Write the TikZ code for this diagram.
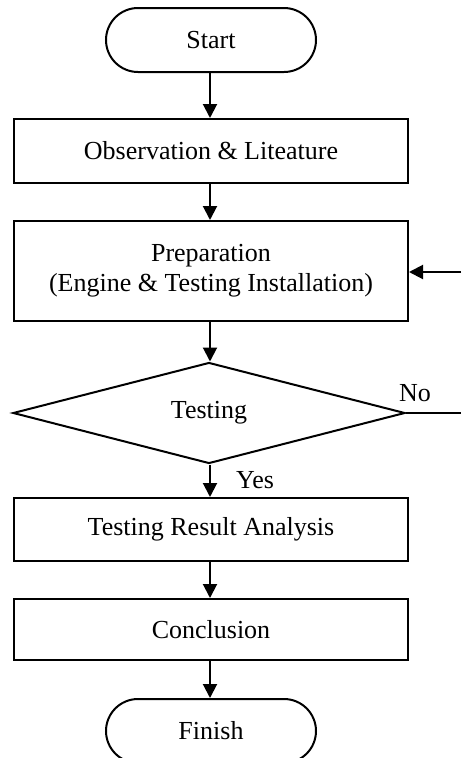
\documentclass[tikz,border=0pt]{standalone}
\usepackage{fontspec}
\setmainfont{Liberation Serif}
\usetikzlibrary{shapes.misc,shapes.geometric,arrows.meta}
\begin{document}
\begin{tikzpicture}[x=1pt,y=-1pt,
  every node/.style={font=\fontsize{26}{30}\selectfont},
  box/.style={draw,line width=2pt,minimum width=394pt,inner sep=0pt,align=center},
  term/.style={draw,line width=2pt,rounded rectangle,minimum width=210pt,minimum height=64pt,inner sep=0pt},
  dec/.style={draw,line width=2pt,diamond,minimum width=392pt,minimum height=101pt,inner sep=0pt,aspect=3.9},
  flow/.style={line width=2pt,-{Triangle[length=14pt,width=14pt]}},
  plain/.style={font=\fontsize{26}{30}\selectfont,inner sep=0pt}]
\useasboundingbox (0,0) rectangle (461,758);
\node[term] (start) at (211,40) {Start};
\node[box,minimum height=64pt] (obs) at (211,151) {Observation \& Liteature};
\node[box,minimum height=100pt] (prep) at (211,271) {Preparation\\(Engine \& Testing Installation)};
\node[dec] (test) at (209,413) {Testing};
\node[box,minimum height=63pt] (tra) at (211,529.5) {Testing Result Analysis};
\node[box,minimum height=61pt] (conc) at (211,629.5) {Conclusion};
\node[term] (fin) at (211,731) {Finish};
\node[plain] (no) at (415,393) {No};
\node[plain] (yes) at (255,480) {Yes};
\coordinate (noend) at (461,413);
\coordinate (back) at (461,272);
\draw[flow] (start.south -| 210,0) -- (obs.north -| 210,0);
\draw[flow] (obs.south -| 210,0) -- (prep.north -| 210,0);
\draw[flow] (prep.south -| 210,0) -- (test.north -| 210,0);
\draw[flow] (test.south -| 210,0) -- (tra.north -| 210,0);
\draw[flow] (tra.south -| 210,0) -- (conc.north -| 210,0);
\draw[flow] (conc.south -| 210,0) -- (fin.north -| 210,0);
\draw[line width=2pt] (test.east) -- (noend);
\draw[flow] (back) -- (back -| prep.east);
\end{tikzpicture}
\end{document}
